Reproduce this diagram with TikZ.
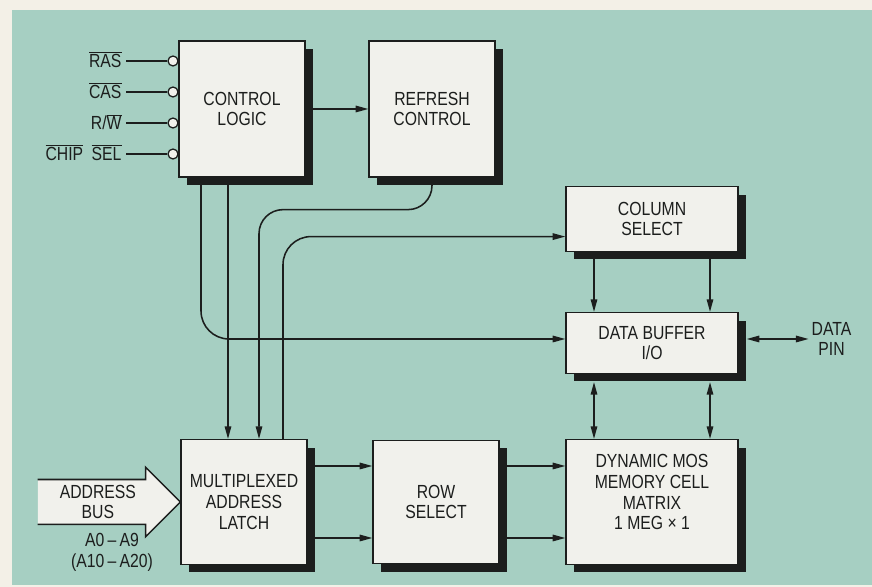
\documentclass[tikz,border=0pt]{standalone}
\usepackage{fontspec}
\setmainfont{Liberation Sans}[FakeStretch=0.83]
\setsansfont{Liberation Sans}[FakeStretch=0.83]
\usetikzlibrary{positioning,arrows.meta,shapes.arrows,shadows}

\definecolor{pagebg}{RGB}{243,240,231}
\definecolor{tealbg}{RGB}{166,207,194}
\definecolor{boxfill}{RGB}{241,241,236}
\definecolor{ink}{RGB}{28,30,29}

\begin{document}
\begin{tikzpicture}[
  font=\sffamily\fontsize{13.5}{14.8}\selectfont,
  >={Triangle[length=9pt,width=4.6pt]},
  blk/.style={rectangle,draw=ink,line width=0.9pt,fill=boxfill,text=ink,
              align=center,inner sep=2pt,
              drop shadow={shadow xshift=0.2cm,shadow yshift=-0.2cm,fill=ink,opacity=1}},
  pinlab/.style={text=ink,inner sep=3pt,anchor=east,text height=9.7pt,text depth=0pt},
  bubble/.style={circle,draw=ink,line width=0.9pt,fill=boxfill,minimum size=0.25cm,inner sep=0pt},
  busarrow/.style={single arrow,fill=boxfill,text=ink,align=center,inner sep=1pt,
                   minimum height=3.55cm,minimum width=1.7cm,
                   single arrow head extend=0.25cm,single arrow tip angle=90},
  lbl/.style={text=ink,align=center,inner sep=2pt},
  wire/.style={line width=1.1pt,draw=ink},
  arr/.style={->,line width=1.1pt,draw=ink},
  darr/.style={<->,line width=1.1pt,draw=ink}
]
\useasboundingbox (0,0) rectangle (21.8,14.675);
\fill[pagebg] (0,0) rectangle (21.8,14.675);
\fill[tealbg] (0.3,0.05) rectangle (21.8,14.425);

%% ---- top row
\node[blk,minimum width=3.15cm,minimum height=3.4cm] (ctrl) at (6.05,11.95) {CONTROL\\LOGIC};
\node[blk,minimum width=3.15cm,minimum height=3.4cm] (rfsh) at (10.8,11.95) {REFRESH\\CONTROL};

%% ---- right column
\node[blk,minimum width=4.3cm,minimum height=1.62cm] (col)  at (16.3,9.2)   {COLUMN\\SELECT};
\node[blk,minimum width=4.3cm,minimum height=1.52cm] (dbuf) at (16.3,6.1)   {DATA BUFFER\\I/O};
\node[blk,minimum width=4.3cm,minimum height=3.12cm,text depth=14pt] (cell) at (16.3,2.125)
  {DYNAMIC MOS\\MEMORY CELL\\MATRIX\\1 MEG × 1};
\node[lbl,right=1.75cm of dbuf,yshift=0.1cm] (pin) {DATA\\PIN};

%% ---- bottom row
\node[blk,minimum width=3.15cm,minimum height=3.12cm] (latch) at (6.1,2.125)  {MULTIPLEXED\\ADDRESS\\LATCH};
\node[blk,minimum width=3.15cm,minimum height=3.08cm] (row)   at (10.9,2.125) {ROW\\SELECT};

%% ---- control inputs
\foreach \n/\y/\t in {ras/13.15/{$\overline{\mbox{RAS}}$},
                      cas/12.375/{$\overline{\mbox{CAS}}$},
                      rw/11.6/{R/$\overline{\mbox{W}}$},
                      cs/10.825/{$\overline{\mbox{CHIP}}$\hspace{0.45em}$\overline{\mbox{SEL}}$}}{
  \node[pinlab] (\n) at (3.15,\y) {\t};
  \node[bubble] (\n dot) at (4.325,\y) {};
  \draw[wire] (\n) -- (\n dot);
}

%% ---- address bus
\node[busarrow,anchor=tip] (bus) at (latch.west) {ADDRESS\\BUS};
\draw[wire,line join=miter] (bus.after tail) -- (bus.before head) -- (bus.before tip)
  -- (bus.tip) -- (bus.after tip) -- (bus.after head) -- (bus.before tail);
\node[lbl] (range) at (2.8,0.875) {A0\,--\,A9\\(A10\,--\,A20)};

%% ---- connectors
\draw[arr] (ctrl) -- (rfsh);
\draw[arr,rounded corners=0.7cm] ([xshift=-1.025cm]ctrl.south) |- ([yshift=0.1cm]dbuf.west);
\draw[arr] ([xshift=-0.35cm]ctrl.south) -- ([xshift=-0.35cm]ctrl.south |- latch.north);
\draw[arr,rounded corners=0.6cm] (rfsh.south) -- ++(0,-0.8) -| ([xshift=0.375cm]latch.north);
\draw[arr,rounded corners=0.7cm] ([xshift=0.975cm]latch.north) |- ([yshift=-0.44cm]col.west);
\foreach \dx in {-1.45,1.45}{
  \draw[arr]  ([xshift=\dx cm]col.south) -- ([xshift=\dx cm]col.south |- dbuf.north);
  \draw[darr] ([xshift=\dx cm,yshift=-0.2cm]dbuf.south) -- ([xshift=\dx cm]dbuf.south |- cell.north);
}
\draw[darr] ([xshift=0.2cm]dbuf.east |- pin.west) -- (pin.west);
\foreach \dy in {0.9,-0.9}{
  \draw[arr] ([yshift=\dy cm]latch.east) -- ([yshift=\dy cm]row.west);
  \draw[arr] ([yshift=\dy cm]row.east) -- ([yshift=\dy cm]cell.west);
}

\end{tikzpicture}
\end{document}
